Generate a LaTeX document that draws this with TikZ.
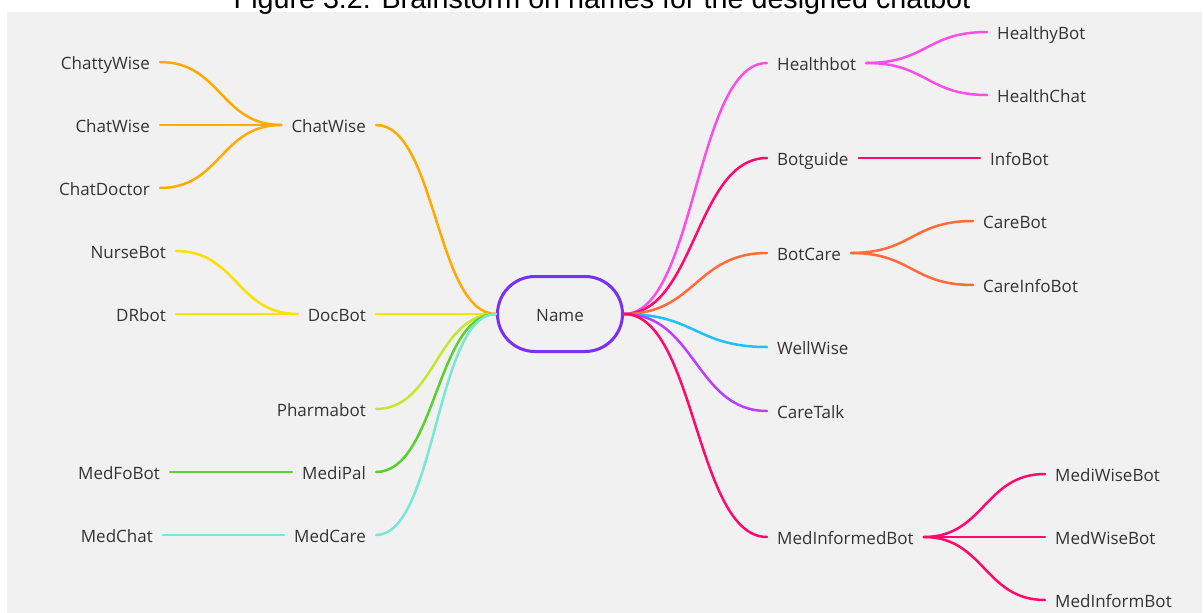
\documentclass[tikz,border=0pt]{standalone}
\usepackage{fontspec}
\setmainfont{Open Sans}
\newfontfamily\titlefont{Liberation Sans}
\usetikzlibrary{calc}

\definecolor{panel}{HTML}{F1F1F1}
\definecolor{txt}{HTML}{333333}
\definecolor{cOrange}{HTML}{FFAA00}
\definecolor{cYellow}{HTML}{FCE000}
\definecolor{cLime}{HTML}{C5E82B}
\definecolor{cGreen}{HTML}{5ACF2E}
\definecolor{cTeal}{HTML}{7BE5D6}
\definecolor{cPink}{HTML}{FA4FE6}
\definecolor{cRed}{HTML}{FF0A6C}
\definecolor{cCoral}{HTML}{FF6B3B}
\definecolor{cCyan}{HTML}{1EC1FF}
\definecolor{cViolet}{HTML}{BA3EFF}
\definecolor{cPurple}{HTML}{7B2FF2}

\tikzset{
  lbl/.style={font=\fontsize{17}{20}\selectfont, text=txt, inner xsep=10pt,
    inner ysep=0pt, text height=15pt, text depth=0pt},
  lft/.style={lbl, anchor=east},
  rgt/.style={lbl, anchor=west},
  br/.style={line width=2.5pt, line cap=round},
  root/.style={draw=cPurple, line width=3pt, rounded corners=37.5pt,
    minimum width=125pt, minimum height=75pt, font=\fontsize{17}{20}\selectfont,
    text=txt, text height=15pt, text depth=0pt, inner sep=0pt}
}

% smooth S-shaped branch with horizontal ends
\newcommand\bcurve[3]{\draw[br,#1] let \p1=(#2),\p2=(#3) in
  (\p1) .. controls ({(\x1+\x2)/2},\y1) and ({(\x1+\x2)/2},\y2) .. (\p2);}
\newcommand\bline[3]{\draw[br,#1] (#2) -- (#3);}

\begin{document}
\begin{tikzpicture}[x=1pt,y=-1pt]
\useasboundingbox (0,0) rectangle (1203,613);
\clip (0,0) rectangle (1203,613);

% background panel and caption
\fill[panel] (7,12) rectangle (1202,613);
\node[font=\titlefont\fontsize{28.7}{32}\selectfont, anchor=base, inner sep=0pt]
  (title) at (602,9) {Figure 3.2: Brainstorm on names for the designed chatbot};

% central node
\node[root] (name) at (560,314) {Name};

% left branches
\node[lft] (chatwise) at (376,125) {ChatWise};
\node[lft] (cw1) at (160,62) {ChattyWise};
\node[lft] (cw2) at (160,125) {ChatWise};
\node[lft] (cw3) at (160,188) {ChatDoctor};
\node[lft] (docbot) at (376,314) {DocBot};
\node[lft] (nurse) at (176,251) {NurseBot};
\node[lft] (drbot) at (176,314) {DRbot};
\node[lft] (pharma) at (376,409) {Pharmabot};
\node[lft] (medipal) at (376,472) {MediPal};
\node[lft] (medfo) at (170,472) {MedFoBot};
\node[lft] (medcare) at (376,535) {MedCare};
\node[lft] (medchat) at (163,535) {MedChat};

% right branches
\node[rgt] (healthbot) at (767,63) {Healthbot};
\node[rgt] (healthy) at (987,32) {HealthyBot};
\node[rgt] (healthchat) at (987,95) {HealthChat};
\node[rgt] (botguide) at (767,158) {Botguide};
\node[rgt] (infobot) at (980,158) {InfoBot};
\node[rgt] (botcare) at (767,253) {BotCare};
\node[rgt] (carebot) at (973,221) {CareBot};
\node[rgt] (careinfo) at (973,285) {CareInfoBot};
\node[rgt] (wellwise) at (767,347) {WellWise};
\node[rgt] (caretalk) at (767,411) {CareTalk};
\node[rgt] (medinformed) at (767,537) {MedInformedBot};
\node[rgt] (mediwise) at (1045,474) {MediWiseBot};
\node[rgt] (medwise) at (1045,537) {MedWiseBot};
\node[rgt] (medinform) at (1045,600) {MedInformBot};

% connectors: centre to first level, left
\bcurve{cOrange}{name.west}{chatwise.east}
\bline{cYellow}{name.west}{docbot.east}
\bcurve{cLime}{name.west}{pharma.east}
\bcurve{cGreen}{name.west}{medipal.east}
\bcurve{cTeal}{name.west}{medcare.east}

% connectors: centre to first level, right
\bcurve{cPink}{name.east}{healthbot.west}
\bcurve{cRed}{name.east}{botguide.west}
\bcurve{cCoral}{name.east}{botcare.west}
\bcurve{cCyan}{name.east}{wellwise.west}
\bcurve{cViolet}{name.east}{caretalk.west}
\bcurve{cRed}{name.east}{medinformed.west}

% second level, left
\bcurve{cOrange}{chatwise.west}{cw1.east}
\bline{cOrange}{chatwise.west}{cw2.east}
\bcurve{cOrange}{chatwise.west}{cw3.east}
\bcurve{cYellow}{docbot.west}{nurse.east}
\bline{cYellow}{docbot.west}{drbot.east}
\bline{cGreen}{medipal.west}{medfo.east}
\bline{cTeal}{medcare.west}{medchat.east}

% second level, right
\bcurve{cPink}{healthbot.east}{healthy.west}
\bcurve{cPink}{healthbot.east}{healthchat.west}
\bline{cRed}{botguide.east}{infobot.west}
\bcurve{cCoral}{botcare.east}{carebot.west}
\bcurve{cCoral}{botcare.east}{careinfo.west}
\bcurve{cRed}{medinformed.east}{mediwise.west}
\bline{cRed}{medinformed.east}{medwise.west}
\bcurve{cRed}{medinformed.east}{medinform.west}
\end{tikzpicture}
\end{document}
